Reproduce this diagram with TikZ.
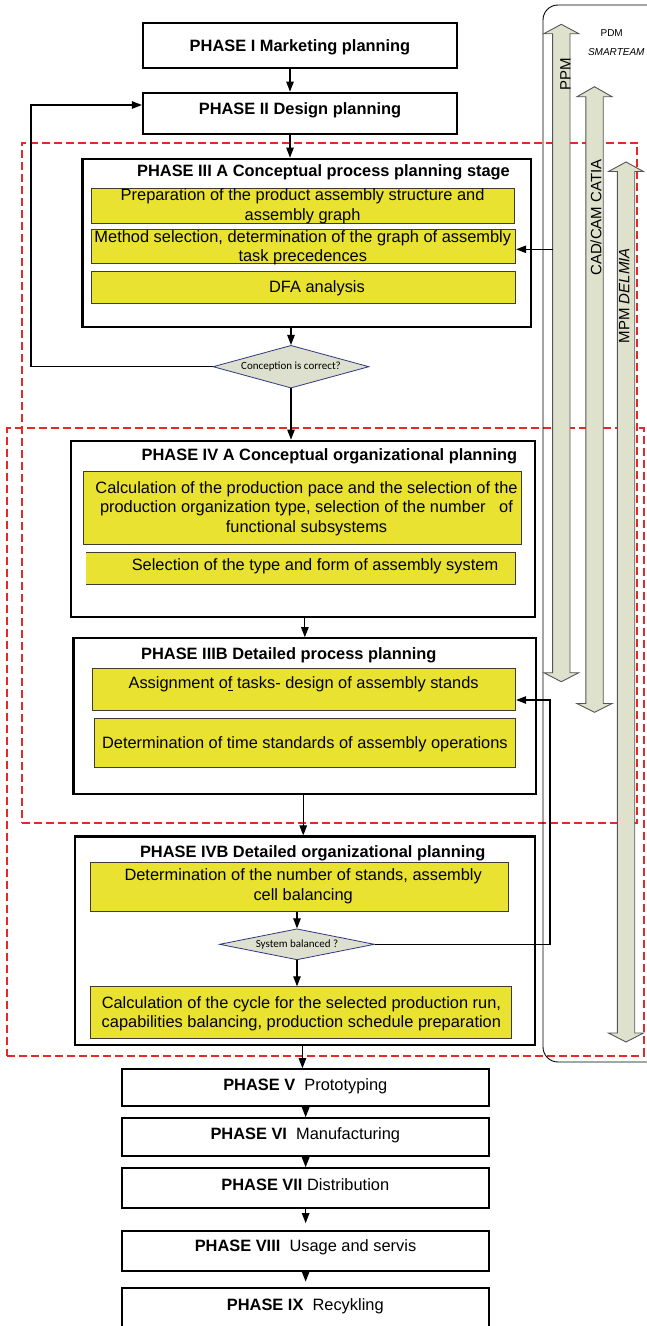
\documentclass[tikz,border=0pt]{standalone}
\usepackage{fontspec}
\setmainfont{Liberation Sans}
\newfontfamily\calib{Carlito}
\usetikzlibrary{arrows.meta,shapes.geometric}

\definecolor{yfill}{RGB}{234,226,48}
\definecolor{ydraw}{RGB}{60,60,50}
\definecolor{dfill}{RGB}{221,224,206}
\definecolor{dnavy}{RGB}{45,55,130}
\definecolor{afill}{RGB}{222,225,204}
\definecolor{adraw}{RGB}{85,85,85}
\definecolor{redd}{RGB}{232,40,36}

% double-headed tool arrow: centre x, top tip, top head base, bottom head base, bottom tip
\newcommand\toolarrow[5]{%
  \filldraw[toolarr] (#1,#2) -- (#1+17.5,#3) -- (#1+8.7,#3) -- (#1+8.7,#4) -- (#1+17.5,#4)
    -- (#1,#5) -- (#1-17.5,#4) -- (#1-8.7,#4) -- (#1-8.7,#3) -- (#1-17.5,#3) -- cycle;}

\begin{document}
\begin{tikzpicture}[x=1pt,y=-1pt,
  phasebox/.style={draw, line width=2.2pt, fill=white, inner sep=0},
  ybox/.style={draw=ydraw, line width=0.9pt, fill=yfill, inner sep=0},
  txt/.style={font=\fontsize{16.4}{19.5}\selectfont, inner sep=0, align=center, anchor=base},
  ttl/.style={txt, font=\bfseries\fontsize{16.4}{19.5}\selectfont},
  dec/.style={diamond, draw=dnavy, fill=dfill, line width=0.8pt, inner sep=0,
    font=\calib\fontsize{11}{13}\selectfont},
  arr/.style={line width=1.1pt, -{Triangle[length=10pt,width=7.5pt]}},
  region/.style={draw=redd, line width=2pt, dash pattern=on 8pt off 4pt, inner sep=0},
  toolarr/.style={fill=afill, draw=adraw, line width=0.9pt},
  rot/.style={rotate=90, font=\fontsize{15}{18}\selectfont, inner sep=0,
    text height=10.7pt, text depth=0pt},
  small/.style={font=\fontsize{10}{12}\selectfont, inner sep=0, anchor=base}]

\useasboundingbox (0,0) rectangle (647,1326);
\clip (0,0) rectangle (647,1326);

% dashed regions grouping the planning phases
\node[region, minimum width=615.9, minimum height=680.6] (r1) at (329.45,483) {};
\node[region, minimum width=636.2, minimum height=627.4] (r2) at (325.5,742) {};

% PDM frame with its tool arrows
\node[draw, line width=0.9pt, rounded corners=15pt, minimum width=157, minimum height=1057,
  inner sep=0] (pdm) at (621.5,533.5) {};
\node[small] (pdmtxt) at (611.7,36.9) {PDM};
\node[small, font=\itshape\fontsize{10}{12}\selectfont] (smt) at (616.3,55.9) {SMARTEAM};

\toolarrow{561.3}{24.3}{33.7}{672.7}{681.7}
\toolarrow{594.5}{86.7}{96.7}{703.5}{712.3}
\toolarrow{626}{162}{171.5}{1033}{1042}
\node[rot] (ppm) at (565.3,74) {PPM};
\node[rot] (cad) at (596,217.5) {CAD/CAM CATIA};
\node[rot] (mpm) at (624,295.8) {MPM \textit{DELMIA}};

% phases I and II
\node[phasebox, minimum width=314, minimum height=44.4] (p1) at (300,45.5) {};
\node[ttl] at (300,51.5) {PHASE I Marketing planning};
\node[phasebox, minimum width=314, minimum height=41.6] (p2) at (300,113.5) {};
\node[ttl] at (300,114.3) {PHASE II Design planning};

% phase III A (multi-line texts are placed by the baseline of their last line)
\node[phasebox, minimum width=448.5, minimum height=168] (p3a) at (306.75,242.7) {};
\node[ttl] at (323.5,176) {PHASE III A Conceptual process planning stage};
\node[ybox, minimum width=422.4, minimum height=35.3] (y1) at (302.8,205.65) {};
\node[txt] at (302.6,220) {Preparation of the product assembly structure and\\assembly graph};
\node[ybox, minimum width=424.1, minimum height=34] (y2) at (303.65,246.3) {};
\node[txt] at (302.8,261.7) {Method selection, determination of the graph of assembly\\task precedences};
\node[ybox, minimum width=424.1, minimum height=32] (y3) at (303.65,287.3) {};
\node[txt] at (317,292.3) {DFA analysis};

\node[dec, minimum width=156, minimum height=42.7, aspect=3.6] (d1) at (291,366.7) {Conception is correct?};

% phase IV A
\node[phasebox, minimum width=463.7, minimum height=176.6] (p4a) at (302.85,529) {};
\node[ttl] at (329.4,460.7) {PHASE IV A Conceptual organizational planning};
\node[ybox, minimum width=438.6, minimum height=72.3] (ya) at (302.6,507.85) {};
\node[txt] at (306.5,532.3) {Calculation of the production pace and the selection of the\\production organization type, selection of the number\ \ \ of\\functional subsystems};
\node[ybox, minimum width=432.4, minimum height=32.7] (yb) at (299.5,568.35) {};
\fill[white] ([xshift=0.45pt,yshift=-0.45pt]yb.north west) rectangle ([xshift=3.5pt,yshift=0.45pt]yb.south west);
\node[txt] at (315,570) {Selection of the type and form of assembly system};

% phase III B
\node[phasebox, minimum width=462.9, minimum height=156] (p3b) at (304.85,716.3) {};
\node[ttl] at (288.8,659.3) {PHASE IIIB Detailed process planning};
\node[ybox, minimum width=423.3, minimum height=42.4] (yc) at (304.05,689.5) {};
\node[txt] at (303.6,688.3) {Assignment o\underline{f} tasks- design of assembly stands};
\node[ybox, minimum width=421.2, minimum height=49] (yd) at (305.1,742.8) {};
\node[txt] at (304.9,748.3) {Determination of time standards of assembly operations};

% phase IV B
\node[phasebox, minimum width=459.7, minimum height=208.5] (p4b) at (304.85,940.75) {};
\node[ttl] at (312.7,857.3) {PHASE IVB Detailed organizational planning};
\node[ybox, minimum width=417.5, minimum height=48.6] (ye) at (299.55,887) {};
\node[txt] at (303.2,900.2) {Determination of the number of stands, assembly\\cell balancing};
\node[dec, minimum width=155, minimum height=31, aspect=5] (d2) at (297,944.3) {System balanced ?};
\node[ybox, minimum width=420.8, minimum height=51.6] (yf) at (301.2,1012.5) {};
\node[txt] at (301.4,1027.8) {Calculation of the cycle for the selected production run,\\capabilities balancing, production schedule preparation};

% phases V to IX
\node[phasebox, minimum width=367.3, minimum height=36.7] (p5) at (305.65,1087.65) {};
\node[txt] at (305.3,1090.7) {\textbf{PHASE V}\ \ Prototyping};
\node[phasebox, minimum width=367.3, minimum height=37.7] (p6) at (305.65,1137.15) {};
\node[txt] at (305.3,1139) {\textbf{PHASE VI}\ \ Manufacturing};
\node[phasebox, minimum width=367.3, minimum height=40] (p7) at (305.65,1188.3) {};
\node[txt] at (305.3,1190) {\textbf{PHASE VII} Distribution};
\node[phasebox, minimum width=367.3, minimum height=40] (p8) at (305.65,1250.7) {};
\node[txt] at (305.5,1251) {\textbf{PHASE VIII}\ \ Usage and servis};
\node[phasebox, minimum width=367.3, minimum height=56.7] (p9) at (305.65,1316.65) {};
\node[txt] at (305.3,1310) {\textbf{PHASE IX}\ \ Recykling};

% flow connectors
\draw[arr] ([xshift=-10pt]p1.south) -- ([xshift=-10pt]p1.south |- p2.north);
\draw[arr] ([xshift=-10pt]p2.south) -- ([xshift=-10pt]p2.south |- p3a.north);
\draw[arr] (p3a.south -| d1.north) -- (d1.north);
\draw[arr] (d1.south) -- (d1.south |- p4a.north);
\draw[arr] (p4a.south -| p3b.north) -- (p3b.north);
\draw[arr] ([xshift=-1.6pt]p3b.south) -- ([xshift=-1.6pt]p3b.south |- p4b.north);
\draw[arr] (ye.south -| d2.north) -- (d2.north);
\draw[arr] (d2.south) -- (d2.south |- yf.north);
\draw[arr] ([xshift=-2.4pt]p4b.south) -- ([xshift=-2.4pt]p4b.south |- p5.north);
\draw[arr] (p5.south) -- (p6.north);
\draw[arr] (p6.south) -- (p7.north);
\draw[arr, shorten >=6.5pt] (p7.south) -- (p8.north);
\draw[arr, shorten >=5.6pt] (p8.south) -- (p9.north);

% feedback loops
\coordinate (fbl) at (31,366.7);
\draw[arr] (d1.west) -- (fbl) |- ([yshift=8.5pt]p2.west);
\coordinate (fbr) at (550,944.3);
\draw[arr] (d2.east) -- (fbr) |- ([yshift=-10.5pt]yc.east);
\coordinate (ppmside) at (552.6,249.3);
\draw[arr] (ppmside) -- (ppmside -| y2.east);
\end{tikzpicture}
\end{document}
